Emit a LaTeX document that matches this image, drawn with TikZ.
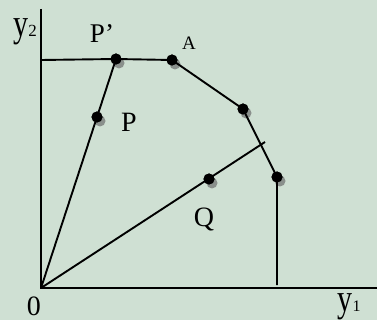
\documentclass[tikz,border=0pt]{standalone}
\usepackage{fontspec}
\setmainfont{Liberation Serif}
\definecolor{bg}{RGB}{207,224,211}
\begin{document}
\begin{tikzpicture}[x=1pt,y=-1pt,
  ln/.style={line width=1.9pt, black},
  dot/.style={circle, fill=black, inner sep=0pt, minimum size=11pt},
  shd/.style={fill=black!60, opacity=0.65},
  lbl/.style={font=\fontsize{28}{28}\selectfont, inner sep=0pt, anchor=base},
  axl/.style={inner sep=0pt, anchor=base}]
\fill[bg] (0,0) rectangle (377,320);
\useasboundingbox (0,0) rectangle (377,320);
% shadows
\foreach \px/\py in {116/59,172/60,243/109,277/177,97/117,209/179}
  \fill[shd] (\px+3,\py+4) circle (5.5pt);
% free ends
\coordinate (O) at (41,288);
\coordinate (Ytop) at (41,9);
\coordinate (Xend) at (377,288);
\coordinate (L) at (41,60);
\coordinate (R) at (265,142);
\coordinate (Cf) at (277,285);
% points
\node[dot] (Pp) at (116,59) {};
\node[dot] (A) at (172,60) {};
\node[dot] (B) at (243,109) {};
\node[dot] (C) at (277,177) {};
\node[dot] (P) at (97,117) {};
\node[dot] (Q) at (209,179) {};
% lines
\draw[ln] (Ytop) -- (O) -- (Xend);
\draw[ln] (L) -- (Pp.center) -- (A.center) -- (B.center) -- (C.center) -- (Cf);
\draw[ln] (O) -- (Pp.center);
\draw[ln] (O) -- (R);
% redraw dots on top
\foreach \n in {Pp,A,B,C,P,Q}
  \fill (\n.center) circle (5.5pt);
% labels
\node[axl] (ly2) at (25,37) {{\fontsize{30}{30}\selectfont\scalebox{1}[1.3]{y}}{\fontsize{17}{17}\selectfont 2}};
\node[axl] (ly1) at (349,311) {{\fontsize{30}{30}\selectfont\scalebox{1}[1.3]{y}}{\fontsize{16}{16}\selectfont 1}};
\node[lbl, font=\fontsize{27}{27}\selectfont] (lPp) at (102,43) {P’};
\node[lbl, font=\fontsize{19}{19}\selectfont] (lA) at (189,50) {A};
\node[lbl] (lP) at (129,132) {P};
\node[lbl] (lQ) at (204,227) {Q};
\node[lbl] (l0) at (34,315) {0};
\end{tikzpicture}
\end{document}
